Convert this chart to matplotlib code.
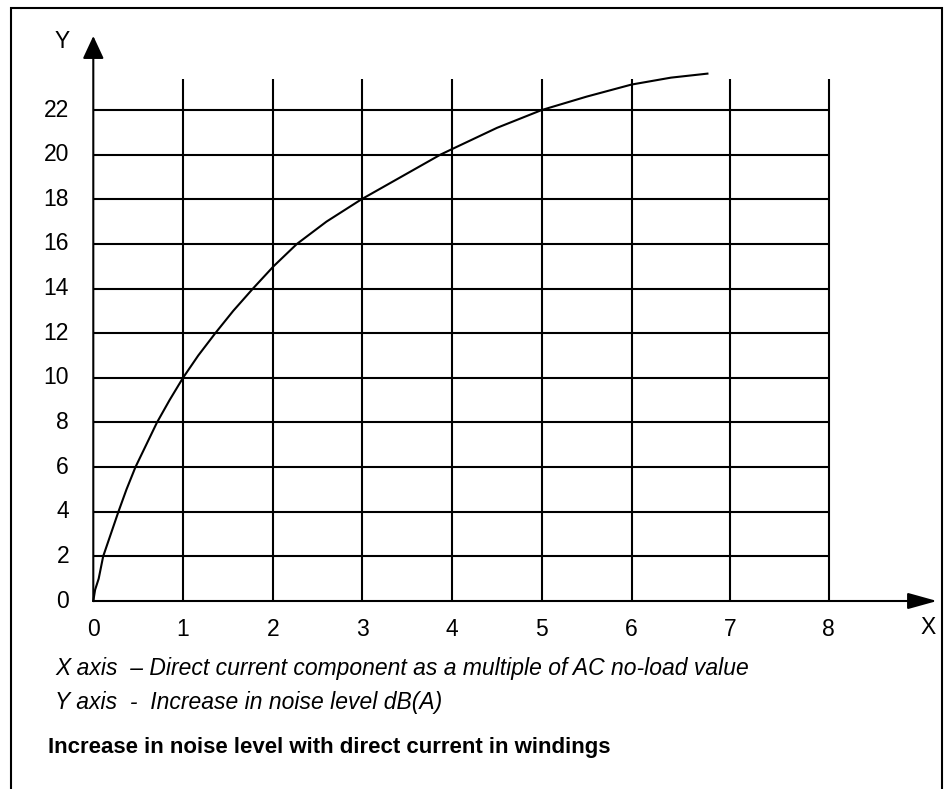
import matplotlib
matplotlib.use("Agg")
import matplotlib.pyplot as plt
import numpy as np
from matplotlib.patches import Rectangle

plt.rcParams['font.family'] = ['Liberation Sans', 'DejaVu Sans']

# curve (x: DC multiple of no-load value, y: dB(A))
dc_multiple = [0, 0.02, 0.06, 0.11, 0.195, 0.28, 0.37, 0.47, 0.59, 0.71, 0.85,
               1.0, 1.17, 1.36, 1.56, 1.78, 2.01, 2.27, 2.60, 2.99, 3.43,
               3.87, 4.0, 4.5, 5.0, 5.5, 6.0, 6.4, 6.77]
noise_db = [0, 0.5, 1.0, 2.0, 3.0, 4.0, 5.0, 6.0, 7.0, 8.0, 9.0,
            10.0, 11.0, 12.0, 13.0, 14.0, 15.0, 16.0, 17.0, 18.0, 19.0,
            20.0, 20.25, 21.2, 22.0, 22.6, 23.14, 23.45, 23.63]

x_ticks = [0, 1, 2, 3, 4, 5, 6, 7, 8]
y_ticks = [0, 2, 4, 6, 8, 10, 12, 14, 16, 18, 20, 22]

W, H = 949, 789
fig = plt.figure(figsize=(W / 100, H / 100), dpi=100)
ax = fig.add_axes([0, 0, 1, 1])

# the original grid is a bit wider past x=6
k = 1.0993
fwd = lambda x: np.where(np.asarray(x) <= 6, x, 6 + (np.asarray(x) - 6) * k)
inv = lambda s: np.where(np.asarray(s) <= 6, s, 6 + (np.asarray(s) - 6) / k)
ax.set_xscale('function', functions=(fwd, inv))

px_x, x0_px = 89.7, 93.3
px_y, y0_px = 22.318, 601
ax.set_xlim(-x0_px / px_x, 6 + ((W - x0_px) / px_x - 6) / k)
ax.set_ylim((y0_px - H) / px_y, y0_px / px_y)
ax.axis('off')

lw = 1.5
grid_top = (y0_px - 79) / px_y
ax.vlines(x_ticks[1:], 0, grid_top, color='black', lw=lw)
ax.hlines(y_ticks[1:], 0, 8, color='black', lw=lw)

# axes with arrow heads
y_tip = (y0_px - 36) / px_y
x_tip = 6 + ((937 - x0_px) / px_x - 6) / k
ax.annotate('', xy=(0, y_tip), xytext=(0, 0),
            arrowprops=dict(arrowstyle='-|>,head_length=14,head_width=6.5',
                            mutation_scale=1, lw=lw, color='black',
                            shrinkA=0, shrinkB=0))
ax.annotate('', xy=(x_tip, 0), xytext=(0, 0),
            arrowprops=dict(arrowstyle='-|>,head_length=18,head_width=5',
                            mutation_scale=1, lw=lw, color='black',
                            shrinkA=0, shrinkB=0))

ax.plot(dc_multiple, noise_db, color='black', lw=lw)

fs = 16.5
for x in x_ticks:
    ax.text(x, (y0_px - 629) / px_y, str(x), ha='center', va='center', fontsize=fs)
for y in y_ticks:
    ax.text((69 - x0_px) / px_x, y, str(y), ha='right', va='center', fontsize=fs)

fig.text(62 / W, 1 - 42 / H, 'Y', ha='center', va='center', fontsize=fs)
fig.text(928 / W, 1 - 628 / H, 'X', ha='center', va='center', fontsize=fs)

fig.text(55 / W, 1 - 668 / H,
         'X axis  \u2013 Direct current component as a multiple of AC no-load value',
         ha='left', va='center', fontsize=16.5, style='italic')
fig.text(55 / W, 1 - 703 / H, 'Y axis  -  Increase in noise level dB(A)',
         ha='left', va='center', fontsize=16.5, style='italic')
fig.text(48 / W, 1 - 747 / H, 'Increase in noise level with direct current in windings',
         ha='left', va='center', fontsize=16, weight='bold')

fig.patches.append(Rectangle((10.7 / W, -0.02), (941.7 - 10.7) / W, 1.02 - 8.3 / H,
                             transform=fig.transFigure, fill=False,
                             edgecolor='black', lw=lw))

fig.savefig('out.png', dpi=100)
